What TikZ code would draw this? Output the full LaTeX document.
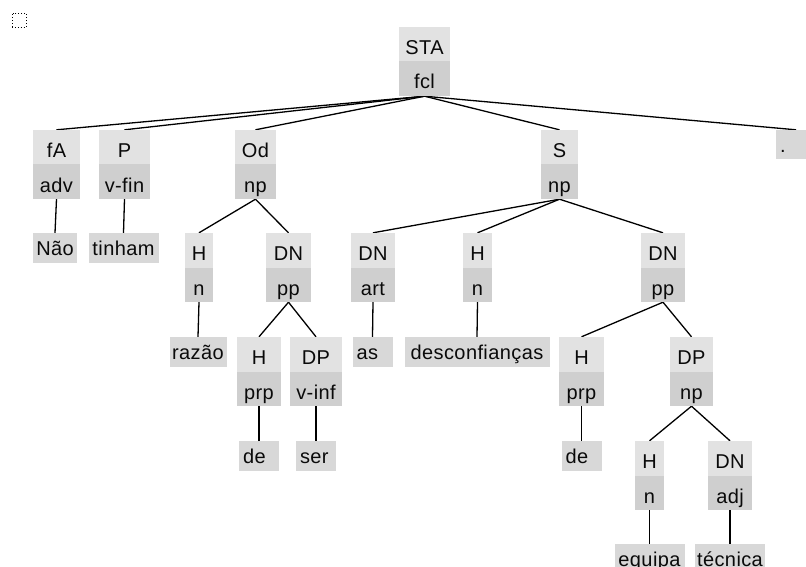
\documentclass[tikz,border=0pt]{standalone}
\usepackage{fontspec}
\setmainfont{Liberation Sans}[LetterSpace=2]
\pgfdeclarelayer{paper}
\pgfdeclarelayer{edges}
\pgfsetlayers{paper,edges,main}

\definecolor{fnfill}{RGB}{226,226,226}
\definecolor{catfill}{RGB}{207,207,207}
\definecolor{leaffill}{RGB}{216,216,216}
\definecolor{ink}{RGB}{10,10,10}

% phrase node: name, centre x, top y, width, function, category
\newcommand\mkphrase[6]{%
  \node[fnpart, minimum width=#4pt] (#1) at (#2,#3+17.25) {#5};
  \node[catpart, minimum width=#4pt] (#1-c) at (#2,#3+51.75) {#6};}
% word node: [style], name, centre x, top y, width, word
\newcommand\mkleaf[6][leaf]{%
  \node[#1, minimum width=#5pt] (#2) at (#3,#4+14.75) {#6};}

\begin{document}
\begin{tikzpicture}[x=1pt, y=-1pt,
  box/.style={rectangle, inner sep=0pt, text=ink,
    font=\fontsize{20}{24}\selectfont, text depth=0pt},
  fnpart/.style={box, fill=fnfill, minimum height=34.5pt, text height=20.5pt},
  catpart/.style={box, fill=catfill, minimum height=34.5pt, text height=20.5pt},
  leaf/.style={box, fill=leaffill, minimum height=29.5pt, text height=16pt},
  shortleaf/.style={leaf, text width=32pt, align=left, inner xsep=4pt},
  edge/.style={draw=black, line width=1.3pt},
  handle/.style={draw=black, dotted, line width=0.9pt, minimum size=14pt, inner sep=0pt}]

\useasboundingbox (0,0) rectangle (806,567);
\clip (0,0) rectangle (806,567);
\begin{pgfonlayer}{paper}
  \fill[white] (0,0) rectangle (806,567);
\end{pgfonlayer}

\node[handle] (handle) at (19,20) {};

% clause
\mkphrase{sta}{424.5}{27}{51}{STA}{fcl}

% clause constituents
\mkphrase{fa}{56.5}{130}{47}{fA}{adv}
\mkphrase{p}{124.5}{130}{51}{P}{v-fin}
\mkphrase{od}{255.5}{130}{41}{Od}{np}
\mkphrase{s}{559.5}{130}{37}{S}{np}
\mkleaf[shortleaf]{dot}{796}{130}{40}{.}

% third row
\mkleaf{nao}{55}{233}{44}{Não}
\mkleaf{tinham}{123.5}{233}{70}{tinham}
\mkphrase{odh}{199}{233}{28}{H}{n}
\mkphrase{oddn}{288.5}{233}{45}{DN}{pp}
\mkphrase{sdn}{373}{233}{44}{DN}{art}
\mkphrase{sh}{477.5}{233}{29}{H}{n}
\mkphrase{sdnb}{663}{233}{44}{DN}{pp}

% fourth row
\mkleaf{razao}{198}{337}{57}{razão}
\mkphrase{odpph}{259}{337}{44}{H}{prp}
\mkphrase{odppdp}{316}{337}{52}{DP}{v-inf}
\mkleaf[shortleaf]{as}{372.5}{337}{40}{as}
\mkleaf{desconf}{477}{337}{145}{desconfianças}
\mkphrase{spph}{581.5}{337}{45}{H}{prp}
\mkphrase{sppdp}{691.5}{337}{43}{DP}{np}

% fifth row
\mkleaf[shortleaf]{dea}{259}{441}{40}{de}
\mkleaf[shortleaf]{ser}{316}{441}{40}{ser}
\mkleaf[shortleaf]{deb}{581.5}{441}{40}{de}
\mkphrase{nph}{649.5}{441}{29}{H}{n}
\mkphrase{npdn}{730}{441}{44}{DN}{adj}

% sixth row (runs past the lower edge)
\mkleaf{equipa}{649.5}{544}{70}{equipa}
\mkleaf{tecnica}{730}{544}{70}{técnica}

\begin{pgfonlayer}{edges}
  \draw[edge] (sta-c.south) -- (fa.north);
  \draw[edge] (sta-c.south) -- (p.north);
  \draw[edge] (sta-c.south) -- (od.north);
  \draw[edge] (sta-c.south) -- (s.north);
  \draw[edge] (sta-c.south) -- (dot.north);
  \draw[edge] (fa-c.south) -- (nao.north);
  \draw[edge] (p-c.south) -- (tinham.north);
  \draw[edge] (od-c.south) -- (odh.north);
  \draw[edge] (od-c.south) -- (oddn.north);
  \draw[edge] (odh-c.south) -- (razao.north);
  \draw[edge] (oddn-c.south) -- (odpph.north);
  \draw[edge] (oddn-c.south) -- (odppdp.north);
  \draw[edge] (odpph-c.south) -- (dea.north);
  \draw[edge] (odppdp-c.south) -- (ser.north);
  \draw[edge] (s-c.south) -- (sdn.north);
  \draw[edge] (s-c.south) -- (sh.north);
  \draw[edge] (s-c.south) -- (sdnb.north);
  \draw[edge] (sdn-c.south) -- (as.north);
  \draw[edge] (sh-c.south) -- (desconf.north);
  \draw[edge] (sdnb-c.south) -- (spph.north);
  \draw[edge] (sdnb-c.south) -- (sppdp.north);
  \draw[edge] (spph-c.south) -- (deb.north);
  \draw[edge] (sppdp-c.south) -- (nph.north);
  \draw[edge] (sppdp-c.south) -- (npdn.north);
  \draw[edge] (nph-c.south) -- (equipa.north);
  \draw[edge] (npdn-c.south) -- (tecnica.north);
\end{pgfonlayer}
\end{tikzpicture}
\end{document}
